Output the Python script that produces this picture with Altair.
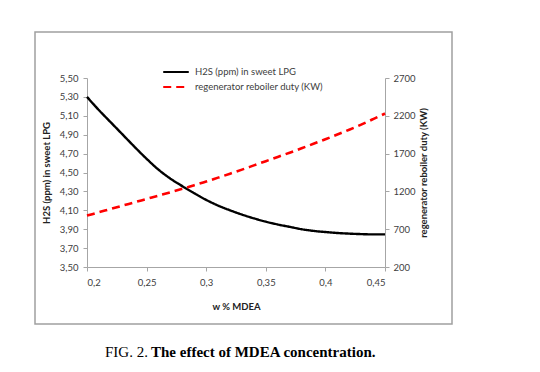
import altair as alt
import pandas as pd

w = [0.20, 0.21, 0.22, 0.23, 0.24, 0.25, 0.26, 0.27, 0.28, 0.29, 0.30, 0.31, 0.32,
     0.33, 0.34, 0.35, 0.36, 0.37, 0.38, 0.39, 0.40, 0.41, 0.42, 0.43, 0.44, 0.45]
h2s = [5.30, 5.16, 5.03, 4.90, 4.77, 4.645, 4.53, 4.435, 4.355, 4.28, 4.21, 4.15, 4.10,
       4.055, 4.015, 3.98, 3.95, 3.925, 3.90, 3.882, 3.87, 3.86, 3.853, 3.848, 3.845, 3.845]
duty = [880, 924, 968, 1012, 1056, 1100, 1144, 1188, 1234, 1282, 1330, 1382, 1434,
        1488, 1544, 1600, 1656, 1712, 1770, 1830, 1890, 1952, 2016, 2084, 2156, 2230]
series = ["H2S (ppm) in sweet LPG", "regenerator reboiler duty (KW)"]
x_ticks = [0.2, 0.25, 0.3, 0.35, 0.4, 0.45]
left_ticks = [3.5, 3.7, 3.9, 4.1, 4.3, 4.5, 4.7, 4.9, 5.1, 5.3, 5.5]
right_ticks = [200, 700, 1200, 1700, 2200, 2700]

df1 = pd.DataFrame({"w": w, "v": h2s, "series": series[0]})
df2 = pd.DataFrame({"w": w, "v": duty, "series": series[1]})

LABEL_FONT = "Lato"
lab_color = "#404040"
axis_gray = "#a6a6a6"
FS = 9.5

xenc = alt.X("w:Q", scale=alt.Scale(domain=[0.2, 0.45], nice=False, zero=False),
             axis=alt.Axis(values=x_ticks, title="w % MDEA", grid=False,
                           labelExpr="replace(format(datum.value, '~g'), '.', ',')",
                           domainColor=axis_gray, tickColor=axis_gray, tickSize=4,
                           labelPadding=6, labelFont=LABEL_FONT, labelFontSize=FS,
                           labelColor=lab_color, titleFont=LABEL_FONT, titleFontSize=FS,
                           titleFontWeight="bold", titleColor="#222222", titlePadding=15))

legend_def = dict(title=None, orient="none", legendX=79, legendY=-16,
                  symbolType="M-1.5,0H1.5", symbolSize=290, symbolStrokeWidth=2.2,
                  labelFont=LABEL_FONT, labelFontSize=FS, labelColor=lab_color,
                  rowPadding=0, padding=0, labelOffset=9)

color = alt.Color("series:N", scale=alt.Scale(domain=series, range=["black", "red"]),
                  legend=alt.Legend(**legend_def))
dash = alt.StrokeDash("series:N", scale=alt.Scale(domain=series, range=[[1, 0], [8, 5]]),
                      legend=alt.Legend(**legend_def))

line1 = alt.Chart(df1).mark_line(strokeWidth=2.4, clip=False, interpolate="monotone").encode(
    x=xenc,
    y=alt.Y("v:Q", scale=alt.Scale(domain=[3.5, 5.5], nice=False, zero=False),
            axis=alt.Axis(orient="left", values=left_ticks, title="H2S (ppm) in sweet LPG",
                          grid=False,
                          labelExpr="replace(format(datum.value, '.2f'), '.', ',')",
                          domainColor=axis_gray, tickColor=axis_gray, tickSize=4,
                          labelPadding=5, labelFont=LABEL_FONT, labelFontSize=FS,
                          labelColor=lab_color, titleFont=LABEL_FONT, titleFontSize=FS,
                          titleFontWeight="bold", titleColor="#222222", titlePadding=8)),
    color=color, strokeDash=dash)

line2 = alt.Chart(df2).mark_line(strokeWidth=2.6, clip=False, interpolate="monotone").encode(
    x=xenc,
    y=alt.Y("v:Q", scale=alt.Scale(domain=[200, 2700], nice=False, zero=False),
            axis=alt.Axis(orient="right", values=right_ticks,
                          title="regenerator reboiler duty (KW)", grid=False, format="d",
                          domainColor=axis_gray, tickColor=axis_gray, tickSize=4,
                          labelPadding=4, labelFont=LABEL_FONT, labelFontSize=FS,
                          labelColor=lab_color, titleFont=LABEL_FONT, titleFontSize=FS,
                          titleFontWeight="bold", titleColor="#222222", titlePadding=13,
                          titleAngle=270)),
    color=color, strokeDash=dash)

one = pd.DataFrame({"a": [0]})
frame = alt.Chart(one).mark_rect(filled=False, stroke="#a0a0a0", strokeWidth=1.5).encode(
    x=alt.value(-52), x2=alt.value(365), y=alt.value(-46), y2=alt.value(246))

cap1 = alt.Chart(one).mark_text(align="left", baseline="middle", font="Liberation Serif",
                                fontSize=15, color="black", text="FIG. 2.").encode(
    x=alt.value(18), y=alt.value(274))
cap2 = alt.Chart(one).mark_text(align="left", baseline="middle", font="Liberation Serif",
                                fontSize=15, fontWeight="bold", color="black",
                                text="The effect of MDEA concentration.").encode(
    x=alt.value(64), y=alt.value(274))

chart = alt.layer(frame, line1, line2, cap1, cap2).resolve_scale(y="independent").properties(
    width=298, height=189,
    autosize=alt.AutoSizeParams(type="none"),
    padding={"left": 79, "top": 70, "right": 147, "bottom": 97},
).configure_view(stroke=None)

chart.save("out.html", embed_options={"renderer": "svg", "actions": False})
